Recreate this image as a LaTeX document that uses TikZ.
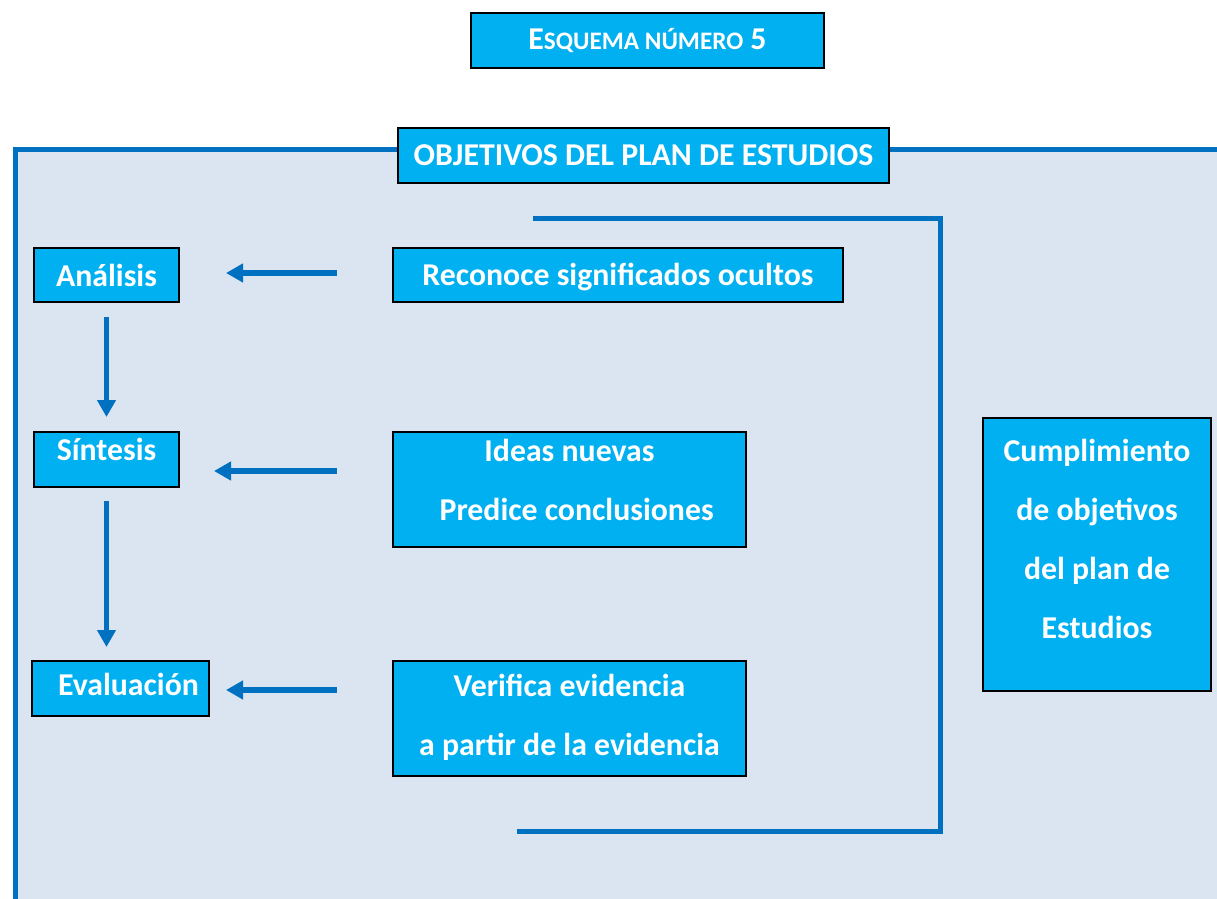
\documentclass[tikz,border=0pt]{standalone}
\usepackage{fontspec}
\setmainfont{Carlito}
\usetikzlibrary{arrows.meta}
\usetikzlibrary{positioning}
\definecolor{celeste}{HTML}{00B0F0}
\definecolor{azul}{HTML}{0070C0}
\definecolor{fondo}{HTML}{DBE5F1}
\newcommand{\elevar}[2]{\raisebox{#1}[0pt][0pt]{\begin{tabular}{@{}c@{}}#2\end{tabular}}}
\tikzset{caja/.style = {draw = black, line width = 1pt, fill = celeste, text = white,
                        font = \bfseries\fontsize{15.9}{29.5}\selectfont,
                        inner sep = 0, align = center}}
\tikzset{flecha/.style = {draw = azul, line width = 2.8pt,
                          -{Triangle[length = 8.5pt, width = 9pt]}}}
\tikzset{marco/.style = {draw = azul, line width = 2.5pt}}

\begin{document}
\begin{tikzpicture}[x = 0.5pt, y = -0.5pt]
      \path [use as bounding box, clip] (0, 0) rectangle (1217, 899);
      \fill [white] (0, 0) rectangle (1217, 899);
      \draw [marco, fill = fondo] (15, 150) rectangle (1240, 930);
      \draw [marco] (533, 219) -| (940, 831) -- (517, 831);
      \node (titulo) at (647.5, 40.5) [caja, minimum width = 176.5pt, minimum height = 27.5pt]
            {E{\fontsize{12.6}{13}\selectfont SQUEMA NÚMERO} 5};
      \node (objetivos) at (643.5, 155.5) [caja, minimum width = 245.5pt, minimum height = 27.5pt]
            {OBJETIVOS DEL PLAN DE ESTUDIOS};
      \node (anal) at (106.5, 275) [caja, minimum width = 72.5pt, minimum height = 27pt] {Análisis};
      \node (sint) at (106.5, 459.5) [caja, minimum width = 72.5pt, minimum height = 27.5pt]
            {\elevar{1pt}{Síntesis}};
      \node (eval) at (120.5, 688.5) [caja, minimum width = 88.5pt, minimum height = 27.5pt]
            {\elevar{-2pt}{\hspace*{8pt}Evaluación}};
      \node (reco) at (618, 275) [caja, minimum width = 225pt, minimum height = 27pt]
            {\elevar{-3.5pt}{Reconoce significados ocultos}};
      \node (ideas) at (569.5, 489.5) [caja, minimum width = 176.5pt, minimum height = 57.5pt]
            {\elevar{1pt}{Ideas nuevas\\ \ \ Predice conclusiones}};
      \node (veri) at (569.5, 718.5) [caja, minimum width = 176.5pt, minimum height = 57.5pt]
            {\elevar{-2pt}{Verifica evidencia\\ a partir de la evidencia}};
      \node (cumpl) at (1097, 554.5) [caja, minimum width = 114pt, minimum height = 136.5pt]
            {\elevar{4pt}{Cumplimiento\\ de objetivos\\ del plan de\\ Estudios}};
      \draw [flecha, shorten <= 27.5pt, shorten >= 23pt] ([yshift = 1pt]reco.west) -- ([yshift = 1pt]anal.east);
      \draw [flecha, shorten <= 27.5pt, shorten >= 17pt]
            ([yshift = 9.25pt]ideas.west) -- ([yshift = 9.25pt]ideas.west -| sint.east);
      \draw [flecha, shorten <= 27.5pt, shorten >= 8pt]
            ([yshift = 14.25pt]veri.west) -- ([yshift = 14.25pt]veri.west -| eval.east);
      \draw [flecha, shorten <= 7pt, shorten >= 7pt] (anal.south) -- (sint.north);
      \draw [flecha, shorten <= 6.5pt, shorten >= 6.5pt] (sint.south) -- (sint.south |- eval.north);
    \end{tikzpicture}
\end{document}
